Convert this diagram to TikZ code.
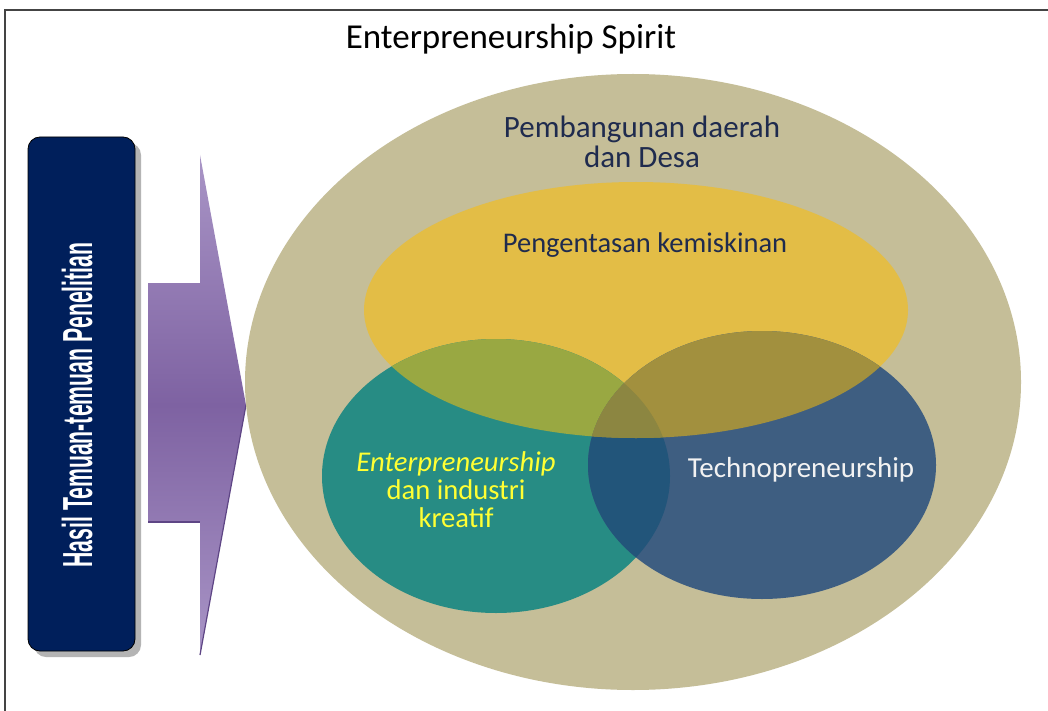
\documentclass[tikz,border=0pt]{standalone}
\usepackage{fontspec}
\usepackage{graphicx}
\setmainfont{Carlito}
\newfontfamily\boxfont{Liberation Sans}

\definecolor{framegray}{HTML}{444444}
\definecolor{navybox}{HTML}{001F5B}
\definecolor{boxshadow}{HTML}{B4B4B4}
\definecolor{arrowlight}{HTML}{A995C6}
\definecolor{arrowdark}{HTML}{7E62A2}
\definecolor{arrowedge}{HTML}{5E4585}
\definecolor{tan}{HTML}{C5BE98}
\definecolor{goldfill}{HTML}{E3BD46}
\definecolor{tealfill}{HTML}{278C84}
\definecolor{bluefill}{HTML}{3E5E81}
\definecolor{goldteal}{HTML}{99A842}
\definecolor{goldblue}{HTML}{A2903E}
\definecolor{tealblue}{HTML}{22557A}
\definecolor{allthree}{HTML}{8C8641}
\definecolor{inkdark}{HTML}{1F2B4E}
\definecolor{inkyellow}{HTML}{FFFF33}
\definecolor{inkwhite}{HTML}{F2F2F2}

\begin{document}
\begin{tikzpicture}[x=1pt,y=-1pt,
  txt/.style n args={2}{align=center, inner sep=0pt, font=\fontsize{#1}{#2}\selectfont},
  hasilbox/.style={draw=black, line width=0.8pt, fill=navybox, rounded corners=12pt,
    minimum width=107pt, minimum height=514pt, inner sep=0pt}]
\useasboundingbox (0,0) rectangle (1048,711);
\fill[white] (0,0) rectangle (1048,711);

% page frame
\draw[framegray, line width=1.4pt] (5,711) -- (5,10) -- (1048,10);

% title
\node[txt={35}{40}, text=black] (title) at (511,39) {Enterpreneurship Spirit};

% left box with its drop shadow
\fill[boxshadow, rounded corners=12pt] (34,143) rectangle (141,657);
\node[hasilbox] (hasil) at (81.5,394) {};
\node[rotate=90, text=white, inner sep=0pt] (hasiltext) at (77,405)
  {\scalebox{0.505}[1]{\boxfont\bfseries\fontsize{42}{48}\selectfont Hasil Temuan-temuan Penelitian}};

% block arrow
\shade[top color=arrowlight, bottom color=arrowlight, middle color=arrowdark]
  (148,283) -- (200,283) -- (200,155) -- (246,405) -- (200,655) -- (200,522) -- (148,522) -- cycle;
\draw[arrowedge, line width=1.2pt] (148,522) -- (200,522);
\draw[arrowedge, line width=1.2pt] (246,405) -- (200,655);

% nested regions
\def\pTan{(633,382) ellipse [x radius=388, y radius=308]}
\def\pGold{(636,310) ellipse [x radius=272, y radius=128]}
\def\pTeal{(496,476) ellipse [x radius=174, y radius=137]}
\def\pBlue{(762,465) ellipse [x radius=174, y radius=134]}

\fill[tan] \pTan;
\fill[goldfill] \pGold;
\fill[tealfill] \pTeal;
\fill[bluefill] \pBlue;
\begin{scope}
  \clip \pTeal;
  \fill[goldteal] \pGold;
  \fill[tealblue] \pBlue;
\end{scope}
\begin{scope}
  \clip \pBlue;
  \fill[goldblue] \pGold;
\end{scope}
\begin{scope}
  \clip \pTeal;
  \clip \pBlue;
  \fill[allthree] \pGold;
\end{scope}

% region labels
\node[txt={31}{30}, text=inkdark] (desa) at (642,142) {Pembangunan daerah\\dan Desa};
\node[txt={28.5}{30}, text=inkdark] (miskin) at (645,245) {Pengentasan kemiskinan};
\node[txt={28.6}{28}, text=inkyellow] (kreatif) at (456,490)
  {\textit{Enterpreneurship}\\dan industri\\kreatif};
\node[txt={29}{30}, text=inkwhite] (techno) at (801,470) {Technopreneurship};
\end{tikzpicture}
\end{document}
